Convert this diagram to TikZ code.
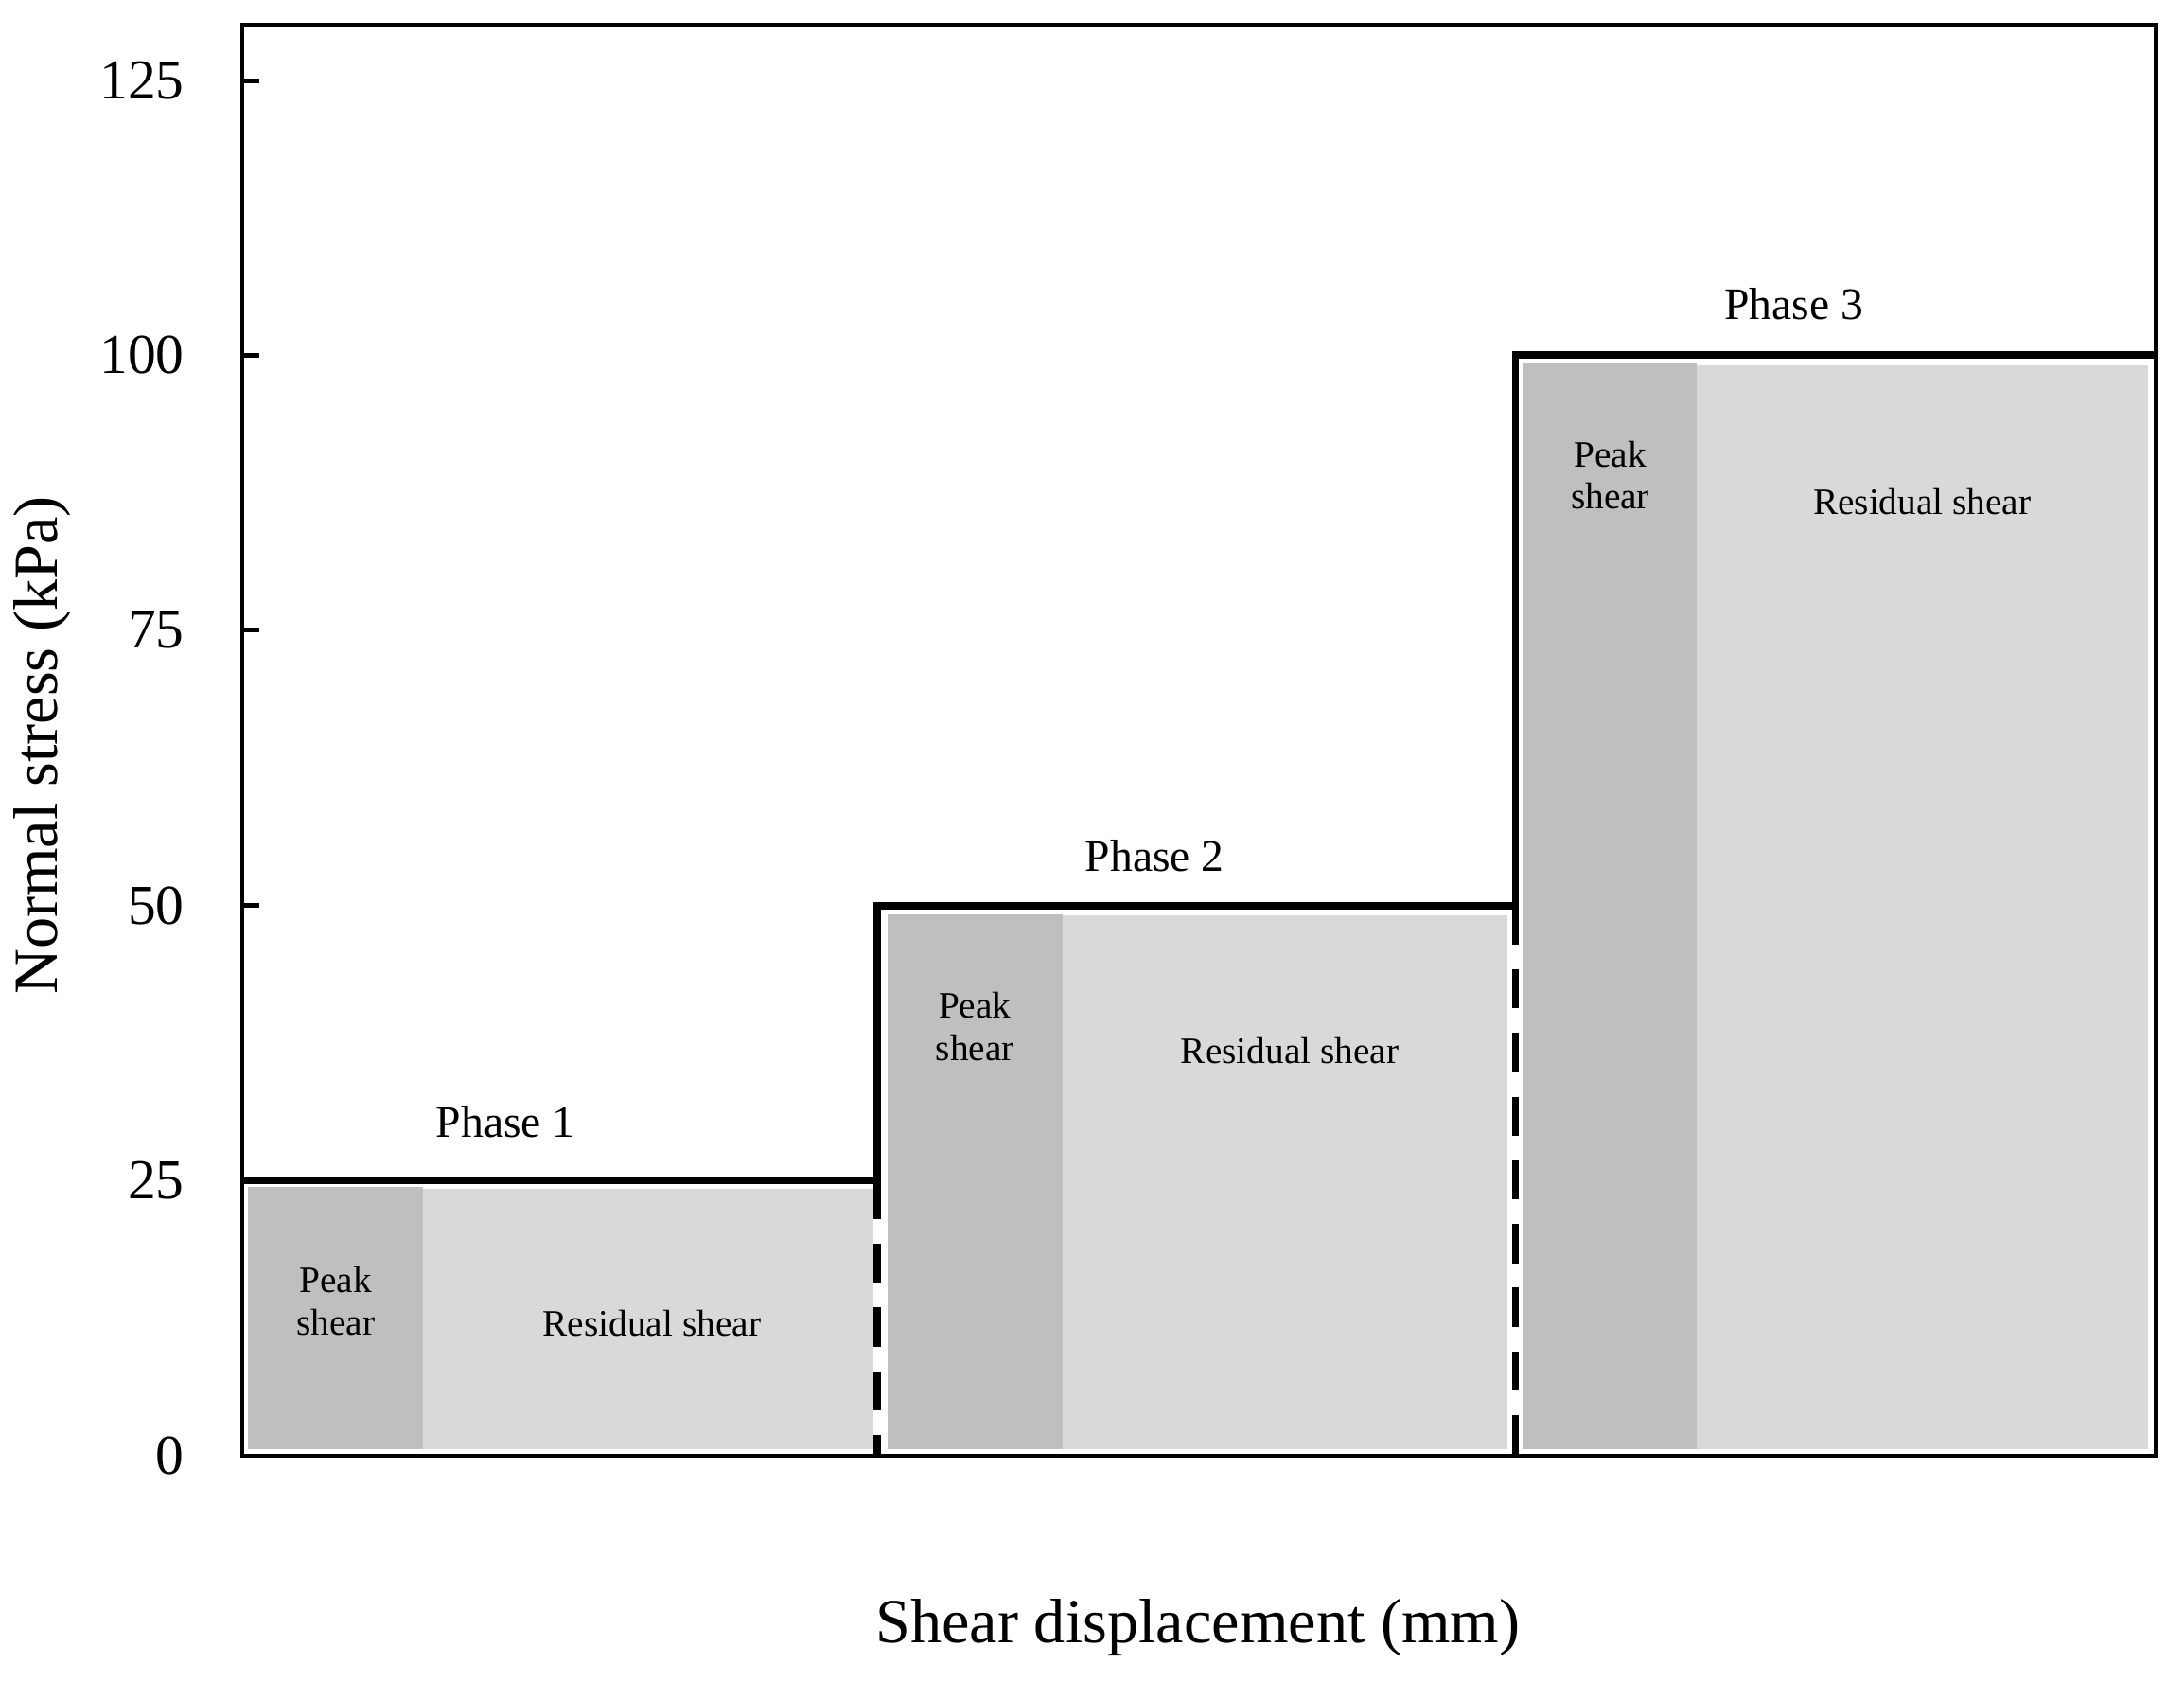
\documentclass[tikz,border=0pt]{standalone}
\usepackage{fontspec}
\setmainfont{Liberation Serif}
\begin{document}
\begin{tikzpicture}[x=0.01cm,y=-0.01cm,
  frame/.style={line width=0.9pt},
  stepline/.style={line width=1.5pt},
  dashline/.style={line width=1.5pt,dash pattern=on 8pt off 5pt},
  peak/.style={fill=peakc,draw=none},
  resid/.style={fill=residc,draw=none},
  lbl/.style={font=\fontsize{7.6}{8.6}\selectfont,align=center,inner sep=0pt},
  ph/.style={font=\fontsize{9.2}{10}\selectfont,inner sep=0pt},
  tick/.style={font=\fontsize{11.5}{12}\selectfont,anchor=east,inner sep=0pt},
  ttl/.style={font=\fontsize{12.8}{14}\selectfont,inner sep=0pt}]
\definecolor{peakc}{HTML}{BFBFBF}
\definecolor{residc}{HTML}{D9D9D9}
\useasboundingbox (0,0) rectangle (1568,1207);
% fills
\fill[peak] (178,852) rectangle (304,1040);
\fill[resid] (304,853) rectangle (627,1040);
\fill[peak] (637,656) rectangle (763,1040);
\fill[resid] (763,657) rectangle (1082,1040);
\fill[peak] (1093,260) rectangle (1218,1040);
\fill[resid] (1218,262) rectangle (1542,1040);
% frame
\draw[frame] (174,18) rectangle (1548,1045);
% ticks
\foreach \v/\y in {0/1045,25/847,50/650,75/452,100/255,125/58}{
  \draw[frame] (174,\y) -- (186,\y);
  \node[tick] (t\v) at (133,\y) {\v};
}
% step line
\coordinate (a0) at (174,847);
\coordinate (a1) at (630,847);
\coordinate (a2) at (630,650);
\coordinate (a3) at (1088,650);
\coordinate (a4) at (1088,255);
\coordinate (a5) at (1548,255);
\draw[stepline] (a0) -- (a1) -- (a2) -- (a3) -- (a4) -- (a5);
\coordinate (d1) at (630,1045);
\coordinate (d2) at (1088,1045);
\draw[dashline] (a1) -- (d1);
\draw[dashline] (a3) -- (d2);
% labels
\node[lbl] (p1) at (241,934) {Peak\\shear};
\node[lbl] (r1) at (468,950) {Residual shear};
\node[lbl] (p2) at (700,737) {Peak\\shear};
\node[lbl] (r2) at (926,754) {Residual shear};
\node[lbl] (p3) at (1156,341) {Peak\\shear};
\node[lbl] (r3) at (1380,360) {Residual shear};
\node[ph] (ph1) at (363,805) {Phase 1};
\node[ph] (ph2) at (829,614) {Phase 2};
\node[ph] (ph3) at (1288,218) {Phase 3};
\node[ttl,rotate=90] (yl) at (30,535) {Normal stress (kPa)};
\node[ttl] (xl) at (860,1168) {Shear displacement (mm)};
\end{tikzpicture}
\end{document}
